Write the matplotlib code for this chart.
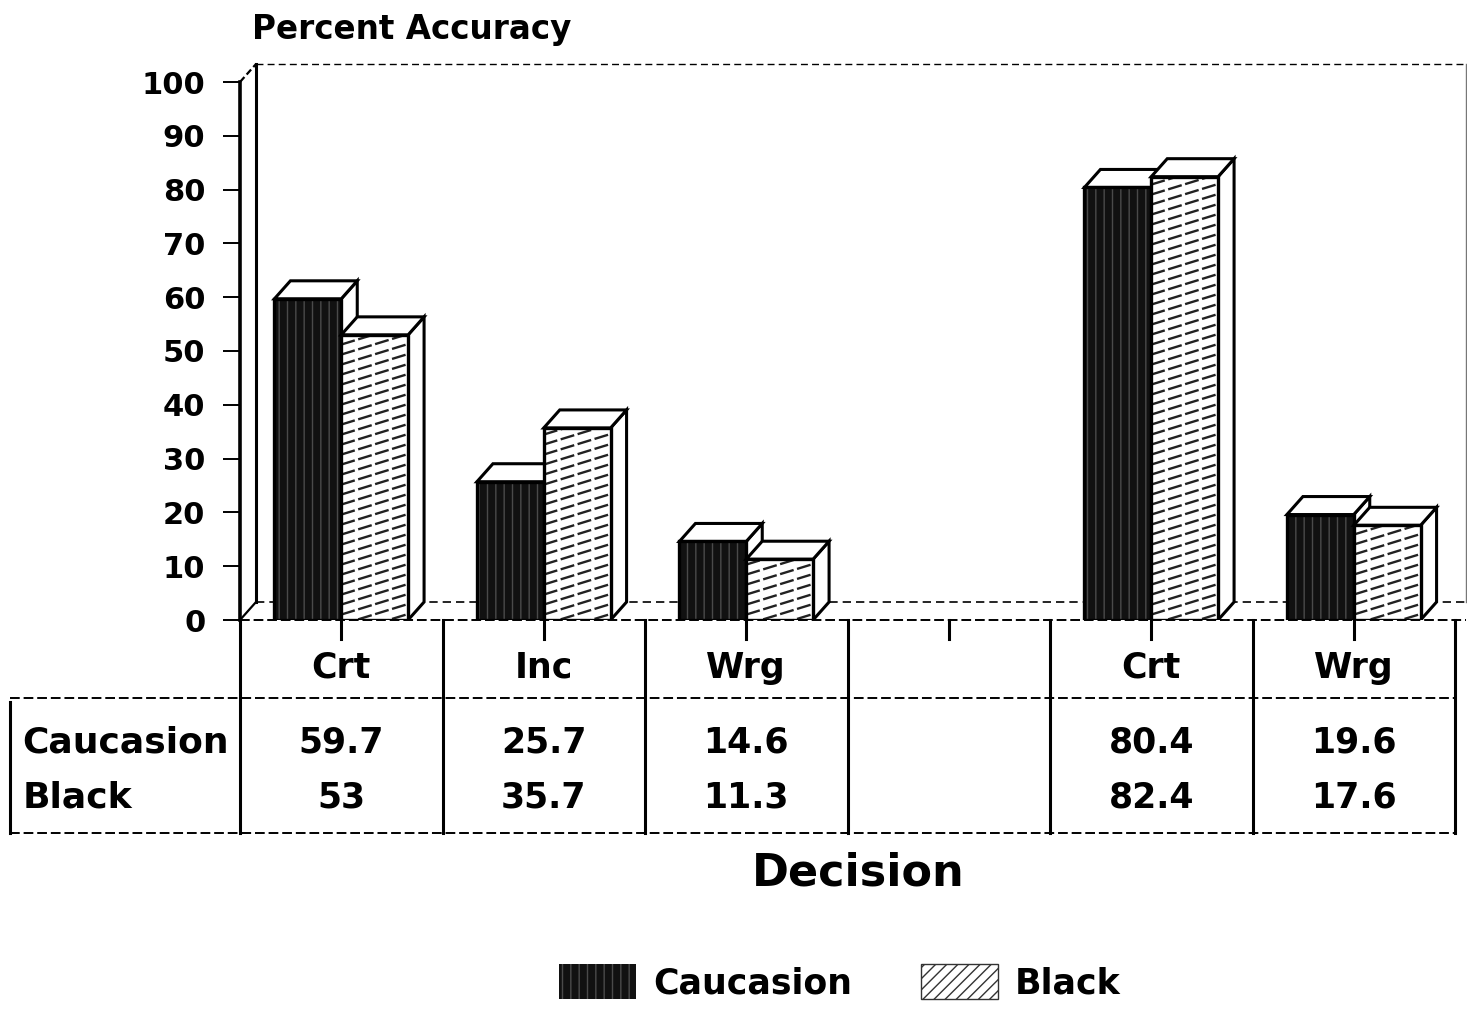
import matplotlib
matplotlib.use('Agg')
import matplotlib.pyplot as plt
from matplotlib.patches import Polygon, Rectangle, Patch
import numpy as np

plt.rcParams['font.family'] = 'DejaVu Sans'
plt.rcParams['font.weight'] = 'bold'
plt.rcParams['hatch.linewidth'] = 1.0

categories = ['Crt', 'Inc', 'Wrg', '', 'Crt', 'Wrg']
caucasion = [59.7, 25.7, 14.6, None, 80.4, 19.6]
black = [53, 35.7, 11.3, None, 82.4, 17.6]
series_names = ['Caucasion', 'Black']
yticks = list(range(0, 101, 10))

W, H = 1467, 1010
fig = plt.figure(figsize=(W / 100, H / 100), dpi=100)

# layout of the original scan (pixels)
x0_px, x6_px, xr_px = 240, 1455, 1466
y0_px, ytop_px = 620, 45
col_px = (x6_px - x0_px) / 6
ppu_y = (620 - 82) / 100.
dx = 16 / col_px          # depth of the fake 3d, data units
dy = 18 / ppu_y
xmax = (xr_px - x0_px) / col_px

ax = fig.add_axes([x0_px / W, 1 - y0_px / H, (xr_px - x0_px) / W, (y0_px - ytop_px) / H])
ax.set_xlim(0, xmax)
ax.set_ylim(0, (y0_px - ytop_px) / ppu_y)
for s in ax.spines.values():
    s.set_visible(False)
ax.set_xticks([])
ax.set_yticks(yticks)
ax.tick_params(axis='y', direction='out', length=12, width=1.4, pad=13, labelsize=22)

#walls and floor
lk = dict(color='black', clip_on=False, zorder=1)
ax.plot([0, 0], [0, 100], lw=2.6, **lk)
ax.plot([dx, dx], [dy, 100 + dy], lw=2.2, **lk)
ax.plot([0, dx], [100, 100 + dy], lw=1.6, ls=(0, (3, 1.5)), **lk)
ax.plot([0, dx], [0, dy], lw=1.6, **lk)
ax.plot([dx, xmax], [100 + dy, 100 + dy], lw=1.0, ls=(0, (5, 3)), **lk)
ax.plot([xmax, xmax], [dy, 100 + dy], lw=1.0, color='#777777', clip_on=False, zorder=1)
ax.plot([0, xmax], [0, 0], lw=1.4, ls=(0, (5, 2)), **lk)
ax.plot([dx, xmax], [dy, dy], lw=1.2, ls=(0, (5, 3)), **lk)

bw = 0.33
slope = (20 / ppu_y) / (65 / col_px)
step = 10 / ppu_y
z = 3


def bar3d(x, h, dark):
    global z
    side = Polygon([(x + bw, 0), (x + bw + dx, dy), (x + bw + dx, h + dy), (x + bw, h)],
                   fc='white', ec='black', lw=2.2, joinstyle='miter', zorder=z)
    top = Polygon([(x, h), (x + bw, h), (x + bw + dx, h + dy), (x + dx, h + dy)],
                  fc='white', ec='black', lw=2.2, joinstyle='miter', zorder=z)
    ax.add_patch(side)
    ax.add_patch(top)
    if dark:
        ax.add_patch(Rectangle((x, 0), bw, h, fc='#111111', ec='#4a4a4a', hatch='||', lw=0, zorder=z + 0.1))
    else:
        face = Rectangle((x, 0), bw, h, fc='white', lw=0, zorder=z + 0.1)
        ax.add_patch(face)
        for c in np.arange(-slope * bw + step * 0.6, h, step):
            ln, = ax.plot([x, x + bw], [c, c + slope * bw], color='#222222', lw=1.7,
                          ls=(0, (6, 1.5)), zorder=z + 0.2)
            ln.set_clip_path(face)
    ax.add_patch(Rectangle((x, 0), bw, h, fill=False, ec='black', lw=2.4, zorder=z + 0.3))
    z += 1


for i, cat in enumerate(categories):
    c = i + 0.5
    if caucasion[i] is not None:
        bar3d(c - bw, caucasion[i], True)
    if black[i] is not None:
        bar3d(c, black[i], False)
    # category tick below the floor
    ax.plot([c, c], [-3.6, 0], color='black', lw=2.2, clip_on=False, zorder=2)

# data table under the plot
tab = fig.add_axes([x0_px / W, 1 - 833 / H, (xr_px - x0_px) / W, (833 - y0_px) / H])
tab.set_xlim(0, xmax)
tab.set_ylim(1, 0)
tab.axis('off')
xl = -(x0_px - 10) / col_px
hdr = 0.366
tab.plot([xl, 6], [hdr, hdr], color='black', lw=1.4, ls=(0, (5, 2)), clip_on=False)
tab.plot([xl, 6], [1, 1], color='black', lw=1.4, ls=(0, (5, 2)), clip_on=False)
tab.plot([xl, xl], [hdr + 0.02, 1], color='black', lw=2.2, clip_on=False)
for k in range(7):
    tab.plot([k, k], [0, 1], color='black', lw=2.2, clip_on=False)

tk = dict(ha='center', va='center', fontsize=25, fontweight='bold', clip_on=False)
for i, cat in enumerate(categories):
    c = i + 0.5
    tab.text(c, 0.225, cat, **tk)
    if caucasion[i] is not None:
        tab.text(c, 0.573, f'{caucasion[i]:g}', **tk)
        tab.text(c, 0.831, f'{black[i]:g}', **tk)
for name, yy in zip(series_names, [0.573, 0.831]):
    tab.text(xl + 0.06, yy, name, ha='left', va='center', fontsize=26, fontweight='bold', clip_on=False)

fig.text(252 / W, 1 - 29 / H, 'Percent Accuracy', ha='left', va='center', fontsize=23.5, fontweight='bold')
fig.text(858 / W, 1 - 873 / H, 'Decision', ha='center', va='center', fontsize=32, fontweight='bold')

handles = [Patch(fc='#111111', ec='#4a4a4a', hatch='||', lw=0),
           Patch(fc='white', ec='#333333', hatch='///', lw=1.0)]
fig.legend(handles, series_names, loc='center', bbox_to_anchor=(840 / W, 1 - 982 / H),
           ncol=2, frameon=False, fontsize=25, handlelength=2.2, handleheight=1.2,
           handletextpad=0.5, columnspacing=2.0)

fig.savefig('out.png', dpi=100, facecolor='white')
